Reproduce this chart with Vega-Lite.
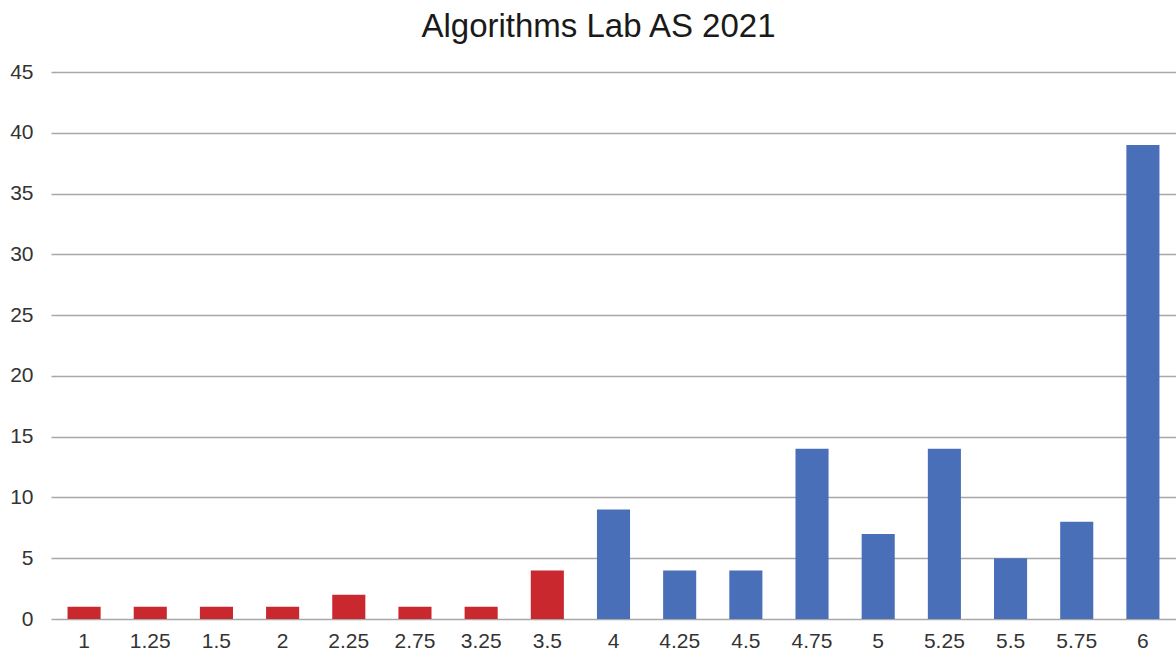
{
  "$schema": "https://vega.github.io/schema/vega-lite/v6.json",
  "autosize": "none",
  "width": 1125,
  "height": 547,
  "padding": {"left": 51, "top": 72, "right": 0, "bottom": 40},
  "background": "white",
  "title": {
    "text": "Algorithms Lab AS 2021",
    "font": "Liberation Sans",
    "fontSize": 33,
    "fontWeight": "normal",
    "color": "#1a1a1a",
    "anchor": "middle",
    "frame": "group",
    "dx": -15,
    "offset": 17
  },
  "data": {
    "values": [
      {"grade": "1", "count": 1, "group": "fail"},
      {"grade": "1.25", "count": 1, "group": "fail"},
      {"grade": "1.5", "count": 1, "group": "fail"},
      {"grade": "2", "count": 1, "group": "fail"},
      {"grade": "2.25", "count": 2, "group": "fail"},
      {"grade": "2.75", "count": 1, "group": "fail"},
      {"grade": "3.25", "count": 1, "group": "fail"},
      {"grade": "3.5", "count": 4, "group": "fail"},
      {"grade": "4", "count": 9, "group": "pass"},
      {"grade": "4.25", "count": 4, "group": "pass"},
      {"grade": "4.5", "count": 4, "group": "pass"},
      {"grade": "4.75", "count": 14, "group": "pass"},
      {"grade": "5", "count": 7, "group": "pass"},
      {"grade": "5.25", "count": 14, "group": "pass"},
      {"grade": "5.5", "count": 5, "group": "pass"},
      {"grade": "5.75", "count": 8, "group": "pass"},
      {"grade": "6", "count": 39, "group": "pass"}
    ]
  },
  "mark": {"type": "bar"},
  "encoding": {
    "x": {
      "field": "grade",
      "type": "ordinal",
      "sort": null,
      "scale": {"paddingInner": 0.5, "paddingOuter": 0.25},
      "axis": {
        "title": null,
        "labelAngle": 0,
        "labelFont": "Liberation Sans",
        "labelFontSize": 21,
        "labelColor": "#333333",
        "labelPadding": 11,
        "ticks": false,
        "domain": false,
        "grid": false
      }
    },
    "y": {
      "field": "count",
      "type": "quantitative",
      "scale": {"domain": [0, 45], "nice": false},
      "axis": {
        "title": null,
        "values": [0, 5, 10, 15, 20, 25, 30, 35, 40, 45],
        "labelFont": "Liberation Sans",
        "labelFontSize": 21,
        "labelColor": "#333333",
        "labelPadding": 18,
        "ticks": false,
        "domain": false,
        "grid": true,
        "gridColor": "#a8a8a8",
        "gridWidth": 1.5
      }
    },
    "color": {
      "field": "group",
      "type": "nominal",
      "scale": {"domain": ["fail", "pass"], "range": ["#c8282e", "#4a6fb9"]},
      "legend": null
    }
  },
  "config": {"view": {"stroke": null}}
}
